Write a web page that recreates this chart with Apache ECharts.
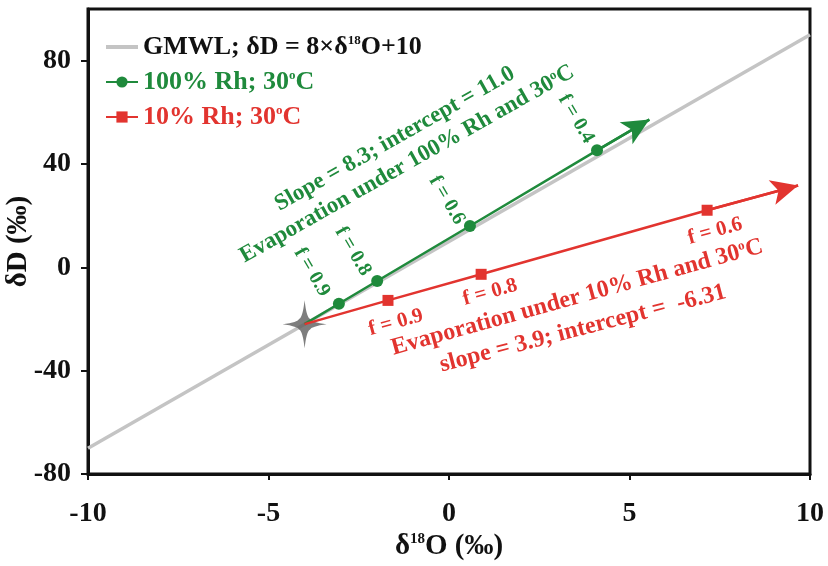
<!DOCTYPE html>
<html>
<head>
<meta charset="utf-8">
<script src="https://cdn.jsdelivr.net/npm/echarts@6/dist/echarts.min.js"></script>
<style>
html, body { margin: 0; background: #fff; }
#main { width: 828px; height: 566px; }
</style>
</head>
<body>
<div id="main"></div>
<script>
var GREEN = '#1f8a3c', RED = '#e2342f', GRAY = '#c4c4c4', STAR = '#5e5e5e';
var FONT = '"Liberation Serif", "Times New Roman", serif';

// GMWL: dD = 8 * d18O + 10
var gmwlX = [-10, 10];
var gmwlY = [-70, 90];

var startPoint = [-4, -22];

// 100% Rh, 30C  (f = 0.9, 0.8, 0.6, 0.4)
var rh100X = [-3.05, -1.99, 0.58, 4.1];
var rh100Y = [-14.1, -5.3, 16.0, 45.3];
var rh100End = [5.55, 57.2];

// 10% Rh, 30C  (f = 0.9, 0.8, 0.6)
var rh10X = [-1.69, 0.89, 7.15];
var rh10Y = [-12.8, -2.7, 22.1];
var rh10End = [9.67, 31.7];

var yTicks = [-80, -40, 0, 40, 80];
var seriesNames = ['GMWL', '100% Rh; 30ºC', '10% Rh; 30ºC'];
var legendText = ['GMWL; δD = 8×δ{sup|18}O+10', '100% Rh; 30{sup|o}C', '10% Rh; 30{sup|o}C'];
var legendColors = ['#111', GREEN, RED];

// text annotations, anchored in data coordinates
var annotations = [
    {text: 'Slope = 8.3; intercept = 11.0', at: [-1.5, 49.7], rotate: 29.5, color: GREEN, size: 23},
    {text: 'Evaporation under 100% Rh and 30{sup|o}C', at: [-1.16, 40.0], rotate: 29.5, color: GREEN, size: 23},
    {text: 'f = 0.9', at: [-3.8, -1.9], rotate: -59.5, color: GREEN, size: 20},
    {text: 'f = 0.8', at: [-2.66, 6.2], rotate: -59.5, color: GREEN, size: 20},
    {text: 'f = 0.6', at: [-0.06, 26.0], rotate: -59.5, color: GREEN, size: 20},
    {text: 'f = 0.4', at: [3.52, 57.5], rotate: -59.5, color: GREEN, size: 20},
    {text: 'f = 0.9', at: [-1.47, -21.4], rotate: 15.6, color: RED, size: 21},
    {text: 'f = 0.8', at: [1.14, -9.7], rotate: 15.6, color: RED, size: 21},
    {text: 'f = 0.6', at: [7.37, 14.0], rotate: 15.6, color: RED, size: 21},
    {text: 'Evaporation under 10% Rh and 30{sup|o}C', at: [3.55, -11.65], rotate: 15.5, color: RED, size: 24},
    {text: 'slope = 3.9; intercept =  -6.31', at: [3.71, -23.7], rotate: 14.5, color: RED, size: 24}
];

function pathData(xs, ys, end) {
    var d = [{value: startPoint, symbol: 'none'}];
    for (var i = 0; i < xs.length; i++) d.push([xs[i], ys[i]]);
    d.push({value: end, symbol: 'none'});
    return d;
}

function arrowTo(xs, ys, end, color) {
    var last = [xs[xs.length - 1], ys[ys.length - 1]];
    return {
        silent: true,
        symbol: ['none', 'arrow'],
        symbolSize: [19, 27],
        label: {show: false},
        lineStyle: {color: color, width: 2.5, type: 'solid'},
        data: [[{coord: last}, {coord: end}]]
    };
}

var chart = echarts.init(document.getElementById('main'));

var option = {
    animation: false,
    backgroundColor: '#fff',
    grid: {
        left: 88, right: 18, top: 9, bottom: 92,
        outerBoundsMode: 'none', containLabel: false,
        show: true, borderColor: '#111', borderWidth: 3
    },
    legend: {
        orient: 'vertical',
        left: 100, top: 29,
        itemWidth: 32, itemHeight: 14, itemGap: 9,
        symbolKeepAspect: true,
        data: seriesNames.map(function (n, i) {
            var item = {name: n, textStyle: {color: legendColors[i]}};
            if (i === 0) item.icon = 'path://M0,0 L32,0 L32,4 L0,4 Z';
            return item;
        }),
        formatter: function (name) {
            return legendText[seriesNames.indexOf(name)];
        },
        textStyle: {
            fontFamily: FONT, fontWeight: 'bold', fontSize: 26,
            rich: {
                sup: {fontFamily: FONT, fontWeight: 'bold', fontSize: 13, verticalAlign: 'top', lineHeight: 14}
            }
        }
    },
    xAxis: {
        type: 'value', min: -10, max: 10, interval: 5,
        name: 'δ{sup|18}O (‰)', nameLocation: 'middle', nameGap: 58, nameMoveOverlap: false,
        nameTextStyle: {
            fontFamily: FONT, fontWeight: 'bold', fontSize: 29, color: '#111',
            rich: {sup: {fontFamily: FONT, fontWeight: 'bold', fontSize: 15, verticalAlign: 'top', color: '#111'}}
        },
        axisLine: {show: true, onZero: false, lineStyle: {color: '#111', width: 3}},
        axisTick: {show: true, length: 6, lineStyle: {color: '#111', width: 2}},
        axisLabel: {fontFamily: FONT, fontWeight: 'bold', fontSize: 28, color: '#111', margin: 26},
        splitLine: {show: false}
    },
    yAxis: {
        type: 'value', min: -80, max: 100,
        name: 'δD (‰)', nameLocation: 'middle', nameGap: 55, nameMoveOverlap: false,
        nameTextStyle: {fontFamily: FONT, fontWeight: 'bold', fontSize: 29, color: '#111'},
        axisLine: {show: true, onZero: false, lineStyle: {color: '#111', width: 3}},
        axisTick: {show: true, length: 7, customValues: yTicks, lineStyle: {color: '#111', width: 2}},
        axisLabel: {fontFamily: FONT, fontWeight: 'bold', fontSize: 28, color: '#111', margin: 17, customValues: yTicks},
        splitLine: {show: false}
    },
    series: [
        {
            name: seriesNames[0], type: 'line', showSymbol: false, symbol: 'none',
            data: [[gmwlX[0], gmwlY[0]], [gmwlX[1], gmwlY[1]]],
            lineStyle: {color: GRAY, width: 3.5}, itemStyle: {color: GRAY}, z: 1
        },
        {
            name: 'start', type: 'scatter',
            symbol: 'path://M0,-24 Q2,-7 5.5,-5.5 Q7,-2 23,0 Q7,2 5.5,5.5 Q2,7 0,24 Q-2,7 -5.5,5.5 Q-7,2 -23,0 Q-7,-2 -5.5,-5.5 Q-2,-7 0,-24 Z',
            symbolSize: [44, 48],
            data: [startPoint],
            itemStyle: {color: STAR}, z: 2
        },
        {
            name: seriesNames[1], type: 'line', symbol: 'circle', symbolSize: 12,
            data: pathData(rh100X, rh100Y, rh100End),
            lineStyle: {color: GREEN, width: 2.5}, itemStyle: {color: GREEN}, z: 3,
            markLine: arrowTo(rh100X, rh100Y, rh100End, GREEN)
        },
        {
            name: seriesNames[2], type: 'line', symbol: 'rect', symbolSize: 11,
            data: pathData(rh10X, rh10Y, rh10End),
            lineStyle: {color: RED, width: 2.5}, itemStyle: {color: RED}, z: 3,
            markLine: arrowTo(rh10X, rh10Y, rh10End, RED)
        }
    ]
};

chart.setOption(option);

chart.setOption({
    graphic: annotations.map(function (a) {
        var p = chart.convertToPixel({gridIndex: 0}, a.at);
        return {
            type: 'text', x: p[0], y: p[1], z: 10,
            rotation: a.rotate * Math.PI / 180,
            style: {
                text: a.text, fill: a.color,
                font: 'bold ' + a.size + 'px ' + FONT,
                align: 'center', verticalAlign: 'middle',
                rich: {
                    sup: {fontFamily: FONT, fontWeight: 'bold', fontSize: Math.round(a.size * 0.55), verticalAlign: 'top', fill: a.color}
                }
            }
        };
    })
});
</script>
</body>
</html>
